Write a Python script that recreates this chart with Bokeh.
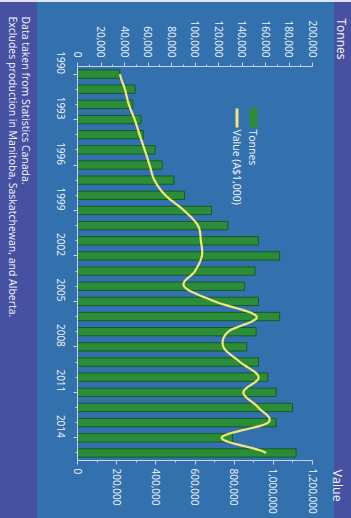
import math

from bokeh.embed import file_html
from bokeh.models import (BoxAnnotation, FixedTicker, Label, LinearAxis,
                          NumeralTickFormatter, Range1d)
from bokeh.plotting import figure
from bokeh.resources import INLINE

# ---- data -------------------------------------------------------------
years = list(range(1990, 2016))
tonnes = [36000, 49000, 47000, 54000, 56000, 66000, 72000, 82000, 91000,
          114000, 128000, 154000, 172000, 151000, 142000, 154000, 172000,
          152000, 144000, 154000, 162000, 169000, 183000, 169000, 132000,
          186000]
value_k = [217000, 242000, 262000, 292000, 317000, 343000, 368000, 393000,
           449000, 544000, 615000, 630000, 635000, 600000, 544000, 700000,
           915000, 770000, 745000, 830000, 925000, 847000, 923000, 973000,
           736000, 963000]

tonnes_ticks = list(range(0, 200001, 20000))
tonnes_minor = list(range(0, 200001, 10000))
value_ticks = list(range(0, 1200001, 200000))
value_minor = list(range(0, 1200001, 100000))
year_ticks = list(range(1990, 2015, 3))

footnote = ["Data taken from Statistics Canada.",
            "Excludes production in Manitoba, Saskatchewan, and Alberta."]

# ---- layout constants -----------------------------------------------
W, H = 351, 518
AL, AR, AT, AB = 77, 312, 66, 460      # axis box edges (canvas px)
OUTER = "#4652a1"
PANEL = "#3370ae"
AXIS = "#c6d4ee"
TEXT = "#f3f6fc"
FONT = "Open Sans"

T_MAX, V_MAX = 200000, 1200000
Y0, Y1 = years[0] - 0.5, years[-1] + 0.5


def span(lo, hi, a, b, size):
    """Extend data interval [lo, hi] (drawn between px a..b) to 0..size px."""
    per_px = (hi - lo) / (b - a)
    return lo - a * per_px, hi + (size - b) * per_px


def smooth(xs, ys, n=16):
    """Catmull-Rom curve through (xs, ys) for drawing a smooth line."""
    out_x, out_y = [], []
    m = len(xs)
    for i in range(m - 1):
        p0 = ys[i - 1] if i > 0 else ys[i]
        p1, p2 = ys[i], ys[i + 1]
        p3 = ys[i + 2] if i + 2 < m else ys[i + 1]
        for k in range(n):
            t = k / n
            v = 0.5 * (2 * p1 + (-p0 + p2) * t
                       + (2 * p0 - 5 * p1 + 4 * p2 - p3) * t * t
                       + (-p0 + 3 * p1 - 3 * p2 + p3) * t ** 3)
            out_x.append(xs[i] + (xs[i + 1] - xs[i]) * t)
            out_y.append(v)
    out_x.append(xs[-1])
    out_y.append(ys[-1])
    return out_x, out_y


tx0, tx1 = span(0, T_MAX, AL, AR, W)
vx0, vx1 = span(0, V_MAX, AL, AR, W)
yt, yb = span(Y0, Y1, AT, AB, H)          # top / bottom of canvas in years

p = figure(width=W, height=H, output_backend="svg", toolbar_location=None,
           x_range=Range1d(tx0, tx1), y_range=Range1d(yb, yt),
           x_axis_location=None, y_axis_location=None,
           min_border=0, min_border_left=0, min_border_right=0,
           min_border_top=0, min_border_bottom=0)
p.extra_x_ranges = {"value": Range1d(vx0, vx1)}

p.border_fill_color = None
p.background_fill_color = None
p.outline_line_color = None
p.grid.visible = False
p.styles = {
    "background": (
        "linear-gradient(to bottom, #dfe4ee 0px, #dfe4ee 2px, transparent 2px),"
        f"linear-gradient(to right, {OUTER} 0px, {OUTER} 37px, {PANEL} 37px,"
        f" {PANEL} 334px, {OUTER} 334px)"
    )
}


def style_axis(ax, standoff):
    ax.axis_line_color = AXIS
    ax.axis_line_width = 1
    ax.major_tick_line_color = AXIS
    ax.minor_tick_line_color = AXIS
    ax.major_tick_in = 0
    ax.major_tick_out = 4
    ax.minor_tick_in = 0
    ax.minor_tick_out = 2
    ax.major_label_text_color = TEXT
    ax.major_label_text_font = FONT
    ax.major_label_text_font_size = "10px"
    ax.major_label_orientation = -math.pi / 2
    ax.major_label_standoff = standoff


tonnes_axis = LinearAxis(fixed_location=Y0, bounds=(0, T_MAX),
                         ticker=FixedTicker(ticks=tonnes_ticks,
                                            minor_ticks=tonnes_minor),
                         formatter=NumeralTickFormatter(format="0,0"))
style_axis(tonnes_axis, 5)
p.add_layout(tonnes_axis, "above")

value_axis = LinearAxis(x_range_name="value", fixed_location=Y1,
                        bounds=(0, V_MAX),
                        ticker=FixedTicker(ticks=value_ticks,
                                           minor_ticks=value_minor),
                        formatter=NumeralTickFormatter(format="0,0"))
style_axis(value_axis, 4)
p.add_layout(value_axis, "below")

year_axis = LinearAxis(fixed_location=0, bounds=(Y0, Y1),
                       ticker=FixedTicker(ticks=year_ticks, minor_ticks=years),
                       formatter=NumeralTickFormatter(format="0"))
style_axis(year_axis, 13)
p.add_layout(year_axis, "left")

# ---- bars (tonnes) and line (value) ---------------------------------
p.hbar(y=years, left=0, right=tonnes, height=0.55,
       fill_color="#2b8d38", line_color="#155b20", line_width=1)

lx, ly = smooth(years, value_k)
p.line(x=ly, y=lx, x_range_name="value", line_color="#f1e878",
       line_width=2.2, line_join="round")


# ---- texts placed in canvas pixels -----------------------------------
def label(text, cx, cy, size, color=TEXT):
    p.add_layout(Label(x=cx, y=H - cy, x_units="screen",
                       y_units="screen", text=text, angle=-math.pi / 2,
                       text_align="left", text_baseline="middle",
                       text_color=color, text_font=FONT,
                       text_font_size=size))


def box(left, right, top, bottom, color):
    p.add_layout(BoxAnnotation(left=left, right=right,
                               top=H - top, bottom=H - bottom,
                               left_units="screen", right_units="screen",
                               top_units="screen", bottom_units="screen",
                               fill_color=color, fill_alpha=1,
                               line_color=None, level="overlay"))


label("Tonnes", 341, 18, "12px")
label("Value", 337, 469, "12.5px")

# legend
box(249, 257, 107, 127, "#2b8d38")
box(235, 238, 108, 127, "#f1e878")
label("Tonnes", 252.5, 129, "10.5px")
label("Value (A$1,000)", 236.5, 129, "10.5px")

# footnote
label(footnote[0], 25, 16, "10.5px")
label(footnote[1], 12, 16, "10.5px")

open("out.html", "w").write(file_html(p, INLINE))
